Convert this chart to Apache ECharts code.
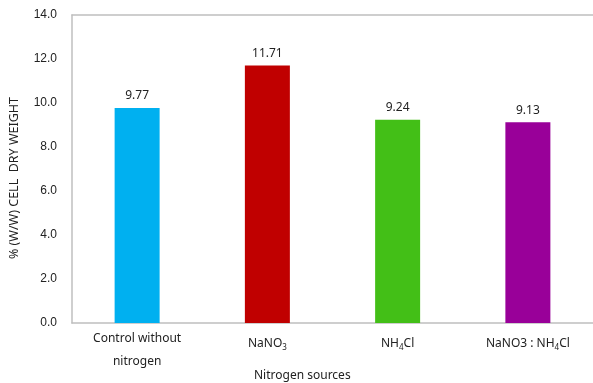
<!DOCTYPE html>
<html>
<head>
<meta charset="utf-8">
<script src="https://cdn.jsdelivr.net/npm/echarts@6/dist/echarts.min.js"></script>
<style>
  html, body { margin: 0; padding: 0; background: #fff; }
  #chart { width: 593px; height: 383px; }
</style>
</head>
<body>
<div id="chart"></div>
<script>
// Nitrogen source categories and their tick labels (rich text for subscripts;
// single-line labels use the taller "t" line so they sit mid-block)
const categories = ['Control without nitrogen', 'NaNO3', 'NH4Cl', 'NaNO3 : NH4Cl'];
const tickLabels = ['Control without\nnitrogen', '{t|NaNO}{s|3}', '{t|NH}{s|4}{t|Cl}', '{t|NaNO3 : NH}{s|4}{t|Cl}'];
// Lipid content, % (w/w) of cell dry weight
const values = [9.77, 11.71, 9.24, 9.13];
const barColors = ['#00B0F0', '#C00000', '#43BF17', '#990099'];
const yTicks = [0, 2, 4, 6, 8, 10, 12, 14];

const chart = echarts.init(document.getElementById('chart'), null, { renderer: 'canvas' });

const font = '"Noto Sans", "DejaVu Sans", sans-serif';

chart.setOption({
  animation: false,
  backgroundColor: '#ffffff',
  textStyle: { fontFamily: font },
  grid: { left: 64, right: 0, top: 15, bottom: 60, containLabel: false },
  title: {
    text: 'Nitrogen sources',
    left: 254,
    top: 370,
    padding: 0,
    textStyle: { fontFamily: font, fontSize: 12, fontWeight: 'normal', color: '#222' }
  },
  xAxis: [{
    type: 'category',
    data: categories,
    axisLine: { show: true, lineStyle: { color: '#BFBFBF', width: 1.5 } },
    axisTick: { show: false },
    axisLabel: {
      interval: 0,
      margin: 4,
      color: '#222',
      fontSize: 12,
      lineHeight: 23,
      fontFamily: font,
      formatter: (v, i) => tickLabels[i],
      rich: {
        t: { fontSize: 12, lineHeight: 34, fontFamily: font, color: '#222' },
        s: { fontSize: 8, padding: [8, 0, 0, 0], fontFamily: font, color: '#222' }
      }
    }
  }, {
    // thin frame line along the top of the plot area
    type: 'category',
    position: 'top',
    data: categories,
    axisLine: { show: true, lineStyle: { color: '#BFBFBF', width: 1.5 } },
    axisTick: { show: false },
    axisLabel: { show: false }
  }],
  yAxis: {
    type: 'value',
    min: yTicks[0],
    max: yTicks[yTicks.length - 1],
    interval: 2,
    name: '% (W/W) CELL  DRY WEIGHT',
    nameLocation: 'middle',
    nameGap: 51,
    nameTextStyle: { fontFamily: font, fontSize: 12.5, color: '#222', padding: [0, 18, 0, 0] },
    axisLine: { show: true, lineStyle: { color: '#BFBFBF', width: 1.5 } },
    axisTick: { show: false },
    splitLine: { show: false },
    axisLabel: {
      margin: 15,
      color: '#222',
      fontSize: 12,
      fontFamily: '"Liberation Sans", Arial, sans-serif',
      formatter: v => v.toFixed(1)
    }
  },
  series: [{
    type: 'bar',
    data: values.map((v, i) => ({ value: v, itemStyle: { color: barColors[i] } })),
    barWidth: 45,
    label: {
      show: true,
      position: 'top',
      distance: 6,
      color: '#222',
      fontSize: 12,
      fontFamily: font,
      formatter: p => p.value.toFixed(2)
    }
  }]
});
</script>
</body>
</html>
